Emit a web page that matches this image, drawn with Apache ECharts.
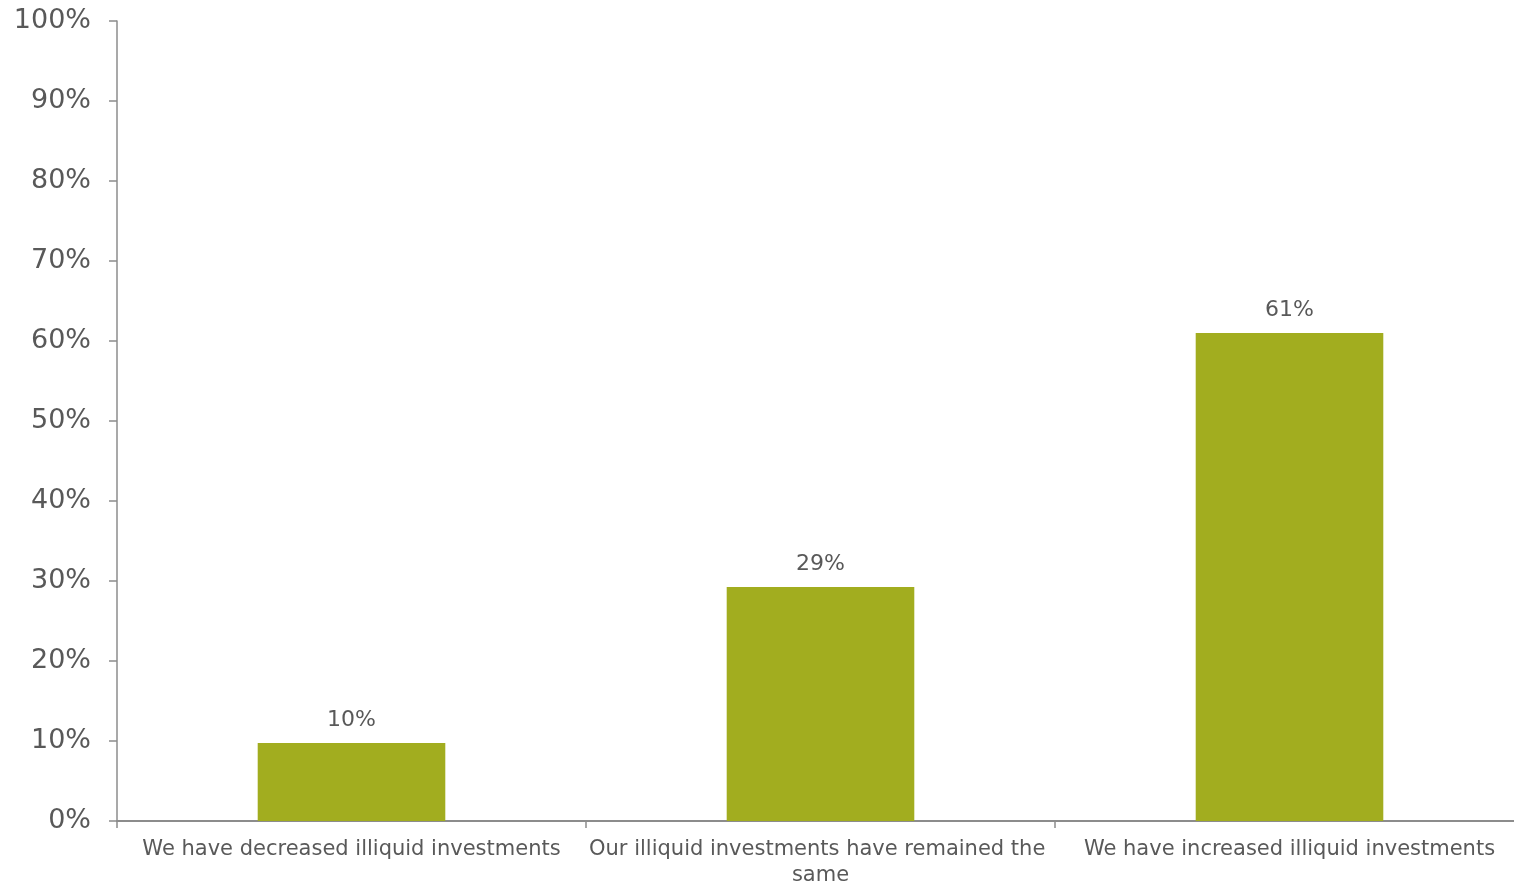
<!DOCTYPE html>
<html>
<head>
<meta charset="utf-8">
<script src="https://cdn.jsdelivr.net/npm/echarts@6/dist/echarts.min.js"></script>
<style>
html,body{margin:0;padding:0;background:#fff;}
#chart{width:1514px;height:886px;}
</style>
</head>
<body>
<div id="chart"></div>
<script>
const categories = [
  "We have decreased illiquid investments",
  "Our illiquid investments have remained the same",
  "We have increased illiquid investments"
];
const values = [9.75, 29.25, 61.0];
const yTicks = [0, 10, 20, 30, 40, 50, 60, 70, 80, 90, 100];

const chart = echarts.init(document.getElementById('chart'), null, {renderer: 'canvas'});
const font = 'DejaVu Sans, Verdana, sans-serif';
chart.setOption({
  animation: false,
  grid: {left: 117, width: 1407, top: 21, bottom: 65, containLabel: false, outerBoundsMode: 'none'},
  xAxis: {
    type: 'category',
    data: categories,
    axisLine: {lineStyle: {color: '#8c8c8c', width: 2}},
    axisTick: {show: true, length: 7, lineStyle: {color: '#8c8c8c', width: 1.5}},
    axisLabel: {
      interval: 0,
      margin: 16,
      color: '#595959',
      fontFamily: font,
      fontSize: 21,
      lineHeight: 26,
      width: 468,
      overflow: 'break'
    }
  },
  yAxis: {
    type: 'value',
    min: yTicks[0],
    max: yTicks[yTicks.length - 1],
    interval: 10,
    splitLine: {show: false},
    axisLine: {show: true, lineStyle: {color: '#8c8c8c', width: 1.5}},
    axisTick: {show: true, length: 8, lineStyle: {color: '#8c8c8c', width: 1.5}},
    axisLabel: {
      margin: 26,
      color: '#595959',
      fontFamily: font,
      fontSize: 27,
      formatter: v => v + '%'
    }
  },
  series: [{
    type: 'bar',
    data: values,
    barWidth: '40%',
    itemStyle: {color: '#A2AD1F'},
    label: {
      show: true,
      position: 'top',
      distance: 12,
      color: '#595959',
      fontFamily: font,
      fontSize: 22,
      formatter: p => Math.round(p.value) + '%'
    }
  }]
});
</script>
</body>
</html>
